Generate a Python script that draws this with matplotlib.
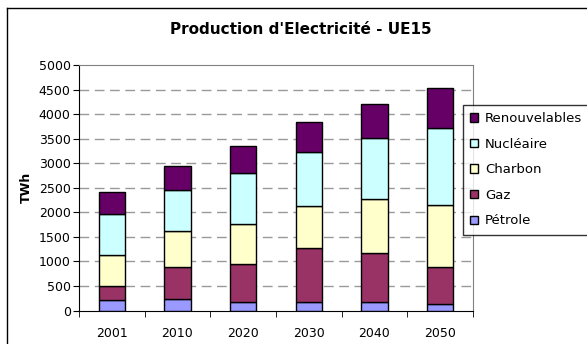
import matplotlib
matplotlib.use("Agg")
import matplotlib.pyplot as plt
import numpy as np

plt.rcParams['font.family'] = ['DejaVu Sans']

years = ["2001", "2010", "2020", "2030", "2040", "2050"]
petrole = [210, 240, 170, 170, 170, 140]
gaz = [280, 650, 775, 1095, 1005, 750]
charbon = [640, 720, 810, 860, 1095, 1255]
nucleaire = [845, 845, 1040, 1105, 1245, 1565]
renouvelables = [435, 490, 555, 610, 695, 825]

series = [
    ("Pétrole", petrole, "#9999FF"),
    ("Gaz", gaz, "#993366"),
    ("Charbon", charbon, "#FFFFCC"),
    ("Nucléaire", nucleaire, "#CCFFFF"),
    ("Renouvelables", renouvelables, "#660066"),
]

W, H = 587, 344
fig = plt.figure(figsize=(W / 100, H / 100), dpi=100)
fig.patch.set_facecolor("white")

# outer chart frame (left and top edges visible)
fig.add_artist(plt.Line2D([7 / W, 7 / W], [0, 1 - 8 / H], transform=fig.transFigure,
                          color="black", lw=1))
fig.add_artist(plt.Line2D([7 / W, 1], [1 - 8 / H, 1 - 8 / H], transform=fig.transFigure,
                          color="black", lw=1))

ax = fig.add_axes([79 / W, (H - 310.5) / H, 394 / W, 245.5 / H])
x = np.arange(len(years))
bottom = np.zeros(len(years))
handles = []
for name, vals, col in series:
    b = ax.bar(x, vals, width=0.4, bottom=bottom, color=col, edgecolor="black",
               linewidth=1, label=name, zorder=3)
    handles.append(b)
    bottom += np.array(vals)

ax.set_xlim(-0.5, len(years) - 0.5)
ax.set_ylim(0, 5000)
ax.set_yticks(np.arange(0, 5001, 500))
ax.set_xticks(x)
ax.set_xticklabels(years)
ax.set_xticks(np.arange(-0.5, len(years), 1), minor=True)
ax.tick_params(axis="x", which="major", length=0, pad=12, labelsize=9)
ax.tick_params(axis="x", which="minor", length=4, direction="out", color="black")
ax.tick_params(axis="y", length=4, direction="out", labelsize=9, pad=2)

for yv in range(500, 5000, 500):
    ax.axhline(yv, color="#999999", lw=1, ls=(0, (7, 4)), zorder=1)

ax.spines["left"].set_color("black")
ax.spines["bottom"].set_color("black")
ax.spines["top"].set_color("#808080")
ax.spines["right"].set_color("#808080")

ax.set_ylabel("TWh", fontsize=9, fontweight="bold", labelpad=4)

fig.text(301 / W, 1 - 30 / H, "Production d'Electricité - UE15", ha="center",
         va="center", fontsize=11, fontweight="bold")

leg = fig.legend(handles[::-1], [s[0] for s in series][::-1],
                 loc="upper left", bbox_to_anchor=(463 / W, 1 - 105 / H),
                 bbox_transform=fig.transFigure, frameon=True, fancybox=False,
                 edgecolor="black", fontsize=9.5, handlelength=0.6, handleheight=0.6,
                 handletextpad=0.5, labelspacing=0.95, borderpad=0.55,
                 borderaxespad=0)
leg.get_frame().set_linewidth(1)

fig.savefig("out.png", dpi=100)
